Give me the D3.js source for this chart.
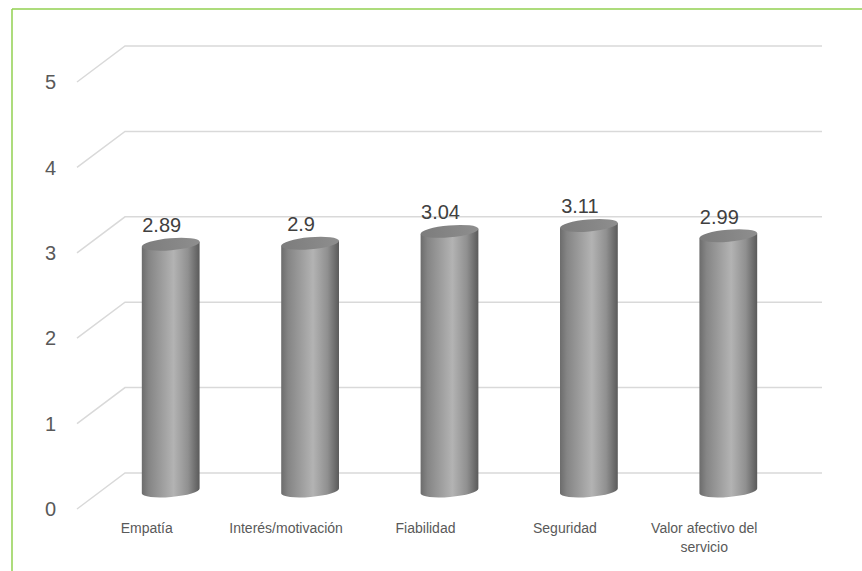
<!DOCTYPE html>
<meta charset="utf-8">
<script src="https://d3js.org/d3.v7.min.js"></script>
<style>
  body { margin: 0; background: #fff; }
  text { font-family: "Liberation Sans", Arial, sans-serif; }
</style>
<div id="my_dataviz"></div>
<script>

// data
var categories = ["Empatía", "Interés/motivación", "Fiabilidad", "Seguridad", "Valor afectivo del servicio"];
var values = [2.89, 2.9, 3.04, 3.11, 2.99];
var yTicks = [0, 1, 2, 3, 4, 5];

var W = 862, H = 571;

// back wall of the 3d plot
var back = {left: 125, right: 822, bottom: 473, top: 46};
// depth offset from back wall to front of the floor
var depth = {dx: -48, dy: 36};

var svg = d3.select("#my_dataviz")
  .append("svg")
    .attr("width", W)
    .attr("height", H);

// green frame (left and top only)
svg.append("line").attr("x1", 12).attr("x2", 12).attr("y1", 9).attr("y2", H)
  .attr("stroke", "#92d050").attr("stroke-width", 1.5);
svg.append("line").attr("x1", 12).attr("x2", W).attr("y1", 9).attr("y2", 9)
  .attr("stroke", "#92d050").attr("stroke-width", 1.5);

var y = d3.scaleLinear()
  .domain([0, 5])
  .range([back.bottom, back.top]);

var x = d3.scaleBand()
  .domain(categories)
  .range([back.left, back.right])
  .padding(0);

// gridlines : diagonal on the side wall + horizontal on the back wall
svg.selectAll("gridline")
  .data(yTicks)
  .enter()
  .append("path")
    .attr("d", function(d){
      return "M" + (back.left + depth.dx) + "," + (y(d) + depth.dy) +
             "L" + back.left + "," + y(d) +
             "L" + back.right + "," + y(d);
    })
    .attr("fill", "none")
    .attr("stroke", "#d9d9d9")
    .attr("stroke-width", 1.5);

// tick labels
svg.selectAll("ticklabel")
  .data(yTicks)
  .enter()
  .append("text")
    .attr("x", 56)
    .attr("y", function(d){ return y(d) + depth.dy; })
    .attr("dy", "0.36em")
    .attr("text-anchor", "end")
    .style("font-size", "20px")
    .attr("fill", "#595959")
    .text(function(d){ return d; });

// gradients
var defs = svg.append("defs");
var bodyGrad = defs.append("linearGradient").attr("id", "cylBody")
  .attr("x1", "0%").attr("x2", "100%").attr("y1", "0%").attr("y2", "0%");
[["0%", "#6c6c6c"], ["12%", "#858585"], ["55%", "#b3b3b3"], ["80%", "#909090"], ["100%", "#5a5a5a"]]
  .forEach(function(s){ bodyGrad.append("stop").attr("offset", s[0]).attr("stop-color", s[1]); });

var topGrad = defs.append("linearGradient").attr("id", "cylTop")
  .attr("x1", "0%").attr("x2", "100%").attr("y1", "0%").attr("y2", "0%");
[["0%", "#7c7c7c"], ["100%", "#8e8e8e"]]
  .forEach(function(s){ topGrad.append("stop").attr("offset", s[0]).attr("stop-color", s[1]); });

// cylinders sit half way in depth
var rx = 29, ry = 6, tilt = -5;
var ex = rx * Math.cos(tilt * Math.PI / 180);
var ey = rx * Math.sin(tilt * Math.PI / 180);

function cx(d){ return x(d) + x.bandwidth() / 2 + depth.dx / 2; }
function baseY(){ return y(0) + depth.dy / 2; }
function topY(v){ return y(v) + depth.dy / 2; }

var bars = svg.selectAll("cyl")
  .data(categories)
  .enter()
  .append("g");

bars.append("path")
  .attr("d", function(d, i){
    var c = cx(d), t = topY(values[i]), b = baseY();
    return "M" + (c - ex) + "," + (t - ey) +
           "L" + (c - ex) + "," + (b - ey) +
           "A" + rx + " " + ry + " " + tilt + " 0 0 " + (c + ex) + "," + (b + ey) +
           "L" + (c + ex) + "," + (t + ey) + "Z";
  })
  .attr("fill", "url(#cylBody)");

bars.append("ellipse")
  .attr("cx", function(d){ return cx(d); })
  .attr("cy", function(d, i){ return topY(values[i]); })
  .attr("rx", rx)
  .attr("ry", ry)
  .attr("transform", function(d, i){ return "rotate(" + tilt + "," + cx(d) + "," + topY(values[i]) + ")"; })
  .attr("fill", "url(#cylTop)");

// value labels
svg.selectAll("vlabel")
  .data(categories)
  .enter()
  .append("text")
    .attr("x", function(d){ return cx(d) - 9; })
    .attr("y", function(d, i){ return topY(values[i]) - 12; })
    .attr("text-anchor", "middle")
    .style("font-size", "20px")
    .attr("fill", "#404040")
    .text(function(d, i){ return values[i]; });

// category labels at the front of the floor, wrapped
svg.selectAll("clabel")
  .data(categories)
  .enter()
  .append("text")
    .attr("x", function(d){ return x(d) + x.bandwidth() / 2 + depth.dx; })
    .attr("y", 533)
    .attr("text-anchor", "middle")
    .style("font-size", "14px")
    .attr("fill", "#595959")
    .each(function(d){
      var el = d3.select(this), xx = +el.attr("x");
      var words = d.split(" "), line = [];
      var tspan = el.append("tspan").attr("x", xx).attr("dy", 0);
      words.forEach(function(w){
        line.push(w);
        tspan.text(line.join(" "));
        if (tspan.node().getComputedTextLength() > 130 && line.length > 1) {
          line.pop();
          tspan.text(line.join(" "));
          line = [w];
          tspan = el.append("tspan").attr("x", xx).attr("dy", 19).text(w);
        }
      });
    });

</script>
